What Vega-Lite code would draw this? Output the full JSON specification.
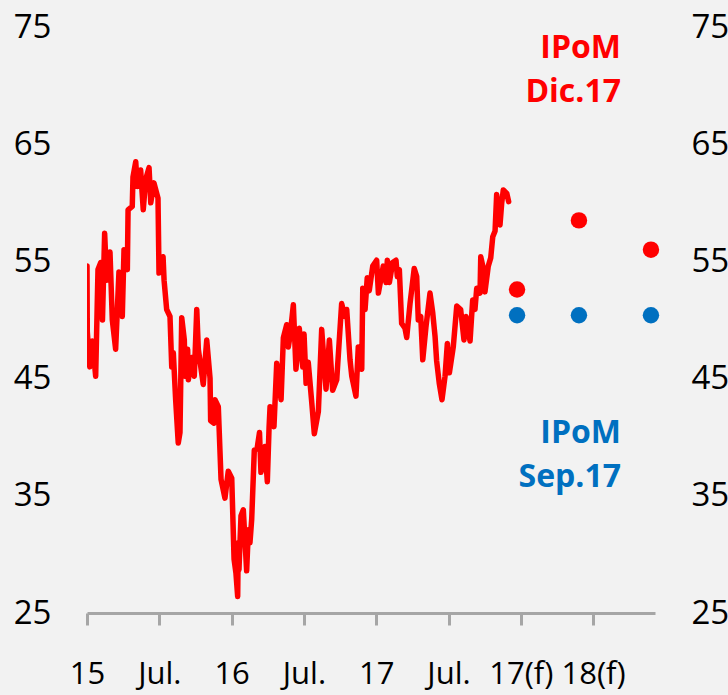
{
  "$schema": "https://vega.github.io/schema/vega-lite/v6.json",
  "width": 568,
  "height": 586,
  "autosize": {"type": "none"},
  "padding": {"left": 87, "top": 27, "right": 73, "bottom": 82},
  "background": "#F2F2F2",
  "config": {
    "view": {"stroke": null},
    "font": "Open Sans",
    "axis": {"labelFont": "Open Sans", "labelColor": "#000000", "grid": false, "title": null}
  },
  "datasets": {
    "oil": [
      {"t":2015.000,"v":54.6},{"t":2015.002,"v":49.0},{"t":2015.019,"v":46.0},{"t":2015.037,"v":48.2},{"t":2015.060,"v":45.2},{"t":2015.076,"v":54.3},{"t":2015.095,"v":54.9},{"t":2015.107,"v":50.0},{"t":2015.122,"v":57.4},{"t":2015.136,"v":53.4},{"t":2015.159,"v":55.8},{"t":2015.175,"v":50.0},{"t":2015.198,"v":47.5},{"t":2015.221,"v":54.1},{"t":2015.244,"v":50.3},{"t":2015.256,"v":56.0},{"t":2015.279,"v":54.3},{"t":2015.284,"v":59.4},{"t":2015.313,"v":59.7},{"t":2015.318,"v":62.2},{"t":2015.337,"v":63.5},{"t":2015.348,"v":61.4},{"t":2015.371,"v":62.8},{"t":2015.389,"v":59.4},{"t":2015.406,"v":62.0},{"t":2015.429,"v":63.0},{"t":2015.441,"v":60.0},{"t":2015.463,"v":61.7},{"t":2015.491,"v":60.4},{"t":2015.498,"v":54.0},{"t":2015.526,"v":55.4},{"t":2015.533,"v":53.4},{"t":2015.551,"v":50.9},{"t":2015.574,"v":50.3},{"t":2015.586,"v":46.0},{"t":2015.597,"v":47.2},{"t":2015.613,"v":43.2},{"t":2015.631,"v":39.5},{"t":2015.643,"v":40.4},{"t":2015.655,"v":50.2},{"t":2015.673,"v":48.3},{"t":2015.678,"v":45.2},{"t":2015.696,"v":47.5},{"t":2015.701,"v":44.9},{"t":2015.724,"v":46.8},{"t":2015.742,"v":45.2},{"t":2015.759,"v":50.9},{"t":2015.770,"v":47.5},{"t":2015.804,"v":44.5},{"t":2015.828,"v":48.3},{"t":2015.851,"v":45.0},{"t":2015.855,"v":41.4},{"t":2015.878,"v":41.2},{"t":2015.885,"v":43.2},{"t":2015.908,"v":42.6},{"t":2015.927,"v":36.4},{"t":2015.954,"v":34.8},{"t":2015.977,"v":37.1},{"t":2016.001,"v":36.5},{"t":2016.017,"v":29.6},{"t":2016.030,"v":28.4},{"t":2016.042,"v":26.4},{"t":2016.046,"v":31.0},{"t":2016.051,"v":28.7},{"t":2016.065,"v":33.3},{"t":2016.081,"v":33.8},{"t":2016.104,"v":28.6},{"t":2016.116,"v":32.1},{"t":2016.127,"v":31.0},{"t":2016.139,"v":33.0},{"t":2016.157,"v":38.9},{"t":2016.176,"v":39.0},{"t":2016.193,"v":40.4},{"t":2016.203,"v":37.0},{"t":2016.231,"v":39.2},{"t":2016.247,"v":36.2},{"t":2016.259,"v":40.8},{"t":2016.266,"v":42.6},{"t":2016.293,"v":40.9},{"t":2016.312,"v":46.3},{"t":2016.342,"v":43.2},{"t":2016.358,"v":48.5},{"t":2016.381,"v":49.6},{"t":2016.392,"v":47.7},{"t":2016.404,"v":48.6},{"t":2016.427,"v":51.3},{"t":2016.445,"v":45.8},{"t":2016.468,"v":49.3},{"t":2016.492,"v":46.0},{"t":2016.501,"v":48.8},{"t":2016.515,"v":44.6},{"t":2016.530,"v":46.4},{"t":2016.554,"v":43.0},{"t":2016.572,"v":40.3},{"t":2016.600,"v":42.2},{"t":2016.623,"v":49.2},{"t":2016.653,"v":44.1},{"t":2016.676,"v":48.3},{"t":2016.699,"v":44.0},{"t":2016.727,"v":44.9},{"t":2016.761,"v":51.4},{"t":2016.784,"v":50.3},{"t":2016.796,"v":50.9},{"t":2016.819,"v":46.6},{"t":2016.831,"v":45.2},{"t":2016.860,"v":43.5},{"t":2016.876,"v":47.7},{"t":2016.900,"v":45.8},{"t":2016.907,"v":52.7},{"t":2016.923,"v":50.9},{"t":2016.938,"v":53.6},{"t":2016.952,"v":52.5},{"t":2016.976,"v":54.6},{"t":2017.003,"v":55.1},{"t":2017.015,"v":52.3},{"t":2017.049,"v":54.6},{"t":2017.068,"v":53.2},{"t":2017.077,"v":55.1},{"t":2017.091,"v":53.2},{"t":2017.114,"v":54.9},{"t":2017.137,"v":55.1},{"t":2017.146,"v":53.7},{"t":2017.160,"v":54.3},{"t":2017.176,"v":49.7},{"t":2017.199,"v":49.3},{"t":2017.211,"v":48.5},{"t":2017.234,"v":51.4},{"t":2017.263,"v":54.4},{"t":2017.280,"v":53.7},{"t":2017.291,"v":50.0},{"t":2017.308,"v":50.3},{"t":2017.322,"v":46.6},{"t":2017.344,"v":49.4},{"t":2017.372,"v":52.3},{"t":2017.391,"v":50.6},{"t":2017.407,"v":48.6},{"t":2017.418,"v":46.5},{"t":2017.436,"v":44.6},{"t":2017.455,"v":43.2},{"t":2017.476,"v":45.2},{"t":2017.492,"v":48.0},{"t":2017.506,"v":45.5},{"t":2017.533,"v":47.7},{"t":2017.557,"v":51.2},{"t":2017.584,"v":50.9},{"t":2017.607,"v":48.3},{"t":2017.621,"v":50.3},{"t":2017.649,"v":48.2},{"t":2017.667,"v":51.7},{"t":2017.683,"v":50.9},{"t":2017.695,"v":52.7},{"t":2017.718,"v":52.3},{"t":2017.723,"v":55.4},{"t":2017.737,"v":54.6},{"t":2017.752,"v":52.4},{"t":2017.775,"v":54.6},{"t":2017.792,"v":55.3},{"t":2017.806,"v":57.1},{"t":2017.822,"v":57.6},{"t":2017.833,"v":60.7},{"t":2017.856,"v":58.1},{"t":2017.868,"v":60.0},{"t":2017.879,"v":61.1},{"t":2017.903,"v":60.8},{"t":2017.916,"v":60.1}
    ],
    "proj": [
      {"t":2017.974,"v":52.6,"s":"Dic"},{"t":2018.402,"v":58.5,"s":"Dic"},{"t":2018.900,"v":56.0,"s":"Dic"},
      {"t":2017.974,"v":50.4,"s":"Sep"},{"t":2018.402,"v":50.4,"s":"Sep"},{"t":2018.900,"v":50.4,"s":"Sep"}
    ],
    "labels": [
      {"t":2018.693,"v":73.2,"txt":"IPoM","s":"Dic"},{"t":2018.693,"v":69.46,"txt":"Dic.17","s":"Dic"},
      {"t":2018.693,"v":40.39,"txt":"IPoM","s":"Sep"},{"t":2018.693,"v":36.64,"txt":"Sep.17","s":"Sep"}
    ]
  },
  "resolve": {"scale": {"y": "shared", "x": "shared", "color": "shared"}, "axis": {"y": "independent"}},
  "layer": [
    {
      "data": {"name": "oil"},
      "mark": {"type": "line", "color": "#FF0000", "strokeWidth": 5.5, "strokeJoin": "round", "strokeCap": "round", "clip": true},
      "encoding": {
        "x": {"field": "t", "type": "quantitative", "scale": {"domain": [2015, 2018.928], "nice": false, "zero": false},
          "axis": {"values": [2015, 2015.5, 2016, 2016.5, 2017, 2017.5, 2018, 2018.5],
            "labelExpr": "datum.value == 2015 ? '15' : datum.value == 2016 ? '16' : datum.value == 2017 ? '17' : datum.value == 2018 ? '17(f)' : datum.value == 2018.5 ? '18(f)' : 'Jul.'",
            "domainColor": "#A6A6A6", "domainWidth": 3, "tickColor": "#A6A6A6", "tickWidth": 3, "tickSize": 12,
            "labelFontSize": 31, "labelPadding": 34, "labelFlush": false, "labelOverlap": false}},
        "y": {"field": "v", "type": "quantitative", "scale": {"domain": [25, 75], "nice": false, "zero": false},
          "axis": {"orient": "left", "values": [25, 35, 45, 55, 65, 75], "domain": false, "ticks": false,
            "labelFontSize": 33, "labelPadding": 36, "labelFlush": false}}
      }
    },
    {
      "data": {"name": "proj"},
      "mark": {"type": "point", "filled": true, "opacity": 1, "size": 270},
      "encoding": {
        "x": {"field": "t", "type": "quantitative"},
        "y": {"field": "v", "type": "quantitative",
          "axis": {"orient": "right", "values": [25, 35, 45, 55, 65, 75], "domain": false, "ticks": false,
            "labelFontSize": 33, "labelPadding": 36, "labelFlush": false}},
        "color": {"field": "s", "type": "nominal", "scale": {"domain": ["Dic", "Sep"], "range": ["#FF0000", "#0070C0"]}, "legend": null}
      }
    },
    {
      "data": {"name": "labels"},
      "mark": {"type": "text", "align": "right", "baseline": "middle", "fontSize": 32, "fontWeight": "bold", "font": "Open Sans"},
      "encoding": {
        "x": {"field": "t", "type": "quantitative"},
        "y": {"field": "v", "type": "quantitative", "axis": null},
        "text": {"field": "txt"},
        "color": {"field": "s", "type": "nominal", "legend": null}
      }
    }
  ]
}
